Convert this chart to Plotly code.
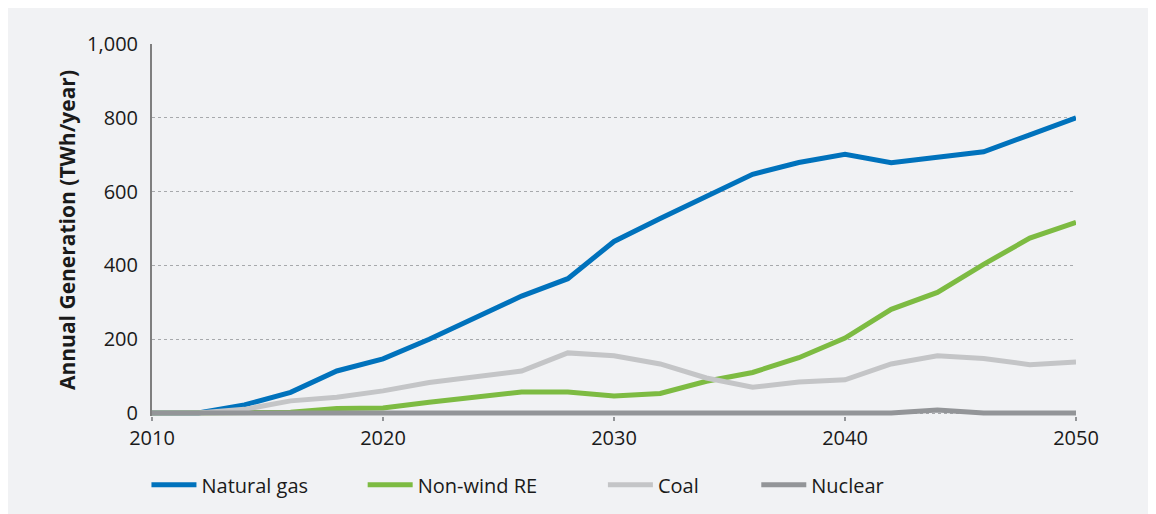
import plotly.graph_objects as go

years = list(range(2010, 2051, 2))
natural_gas = [0, 0, 22, 56, 114, 147, 200, 258, 317, 364, 465, 527, 588, 647, 679, 701, 678, 693, 708, 754, 800]
non_wind_re = [0, 0, 0, 2, 12, 14, 29, 43, 57, 57, 46, 53, 86, 110, 150, 203, 281, 327, 403, 474, 517]
coal = [0, 0, 10, 33, 43, 60, 83, 98, 114, 163, 155, 133, 95, 70, 84, 90, 133, 155, 148, 131, 138]
nuclear = [0, 0, 0, 0, 0, 0, 0, 0, 0, 0, 0, 0, 0, 0, 0, 0, 0, 8, 0, 0, 0]

series_names = ["Natural gas", "Non-wind RE", "Coal", "Nuclear"]
series_values = [natural_gas, non_wind_re, coal, nuclear]
series_colors = ["#0072bc", "#7dbb42", "#c4c5c7", "#939598"]
legend_ids = ["legend", "legend2", "legend3", "legend4"]
legend_x = [-0.006, 0.228, 0.488, 0.654]

y_ticks = [0, 200, 400, 600, 800, 1000]
y_tick_labels = ["0", "200", "400", "600", "800", "1,000"]
x_ticks = [2010, 2020, 2030, 2040, 2050]

FONT = "Open Sans"
TXT = "#1a1a1a"

fig = go.Figure()
for name, vals, col, lid in zip(series_names, series_values, series_colors, legend_ids):
    fig.add_trace(go.Scatter(
        x=years, y=vals, name=name, mode="lines",
        line=dict(color=col, width=5, shape="linear"),
        cliponaxis=False, legend=lid,
    ))

legend_common = dict(orientation="h", y=-0.185, yanchor="middle", xanchor="left",
                     bgcolor="rgba(0,0,0,0)", itemwidth=45,
                     font=dict(family=FONT, size=20, color=TXT))
layout_legends = {lid: dict(legend_common, x=lx) for lid, lx in zip(legend_ids, legend_x)}

fig.update_layout(
    width=1156, height=514,
    margin=dict(l=144, r=88, t=36, b=106),
    paper_bgcolor="#f1f2f4",
    plot_bgcolor="rgba(0,0,0,0)",
    font=dict(family=FONT, size=20, color=TXT),
    showlegend=True,
    **layout_legends,
)

fig.update_xaxes(
    range=[2010, 2050], tickvals=x_ticks, showgrid=False, zeroline=False,
    showline=False, ticks="outside", ticklen=4, tickwidth=2, tickcolor="#939598",
    tickfont=dict(family=FONT, size=20, color=TXT),
)
fig.update_yaxes(
    range=[-8, 1000], tickvals=y_ticks, ticktext=y_tick_labels,
    showgrid=True, gridcolor="#a7a9ac", gridwidth=1, griddash="dot",
    zeroline=False, showline=True, linecolor="#7f7f7f", linewidth=2,
    ticks="outside", ticklen=8, tickcolor="rgba(0,0,0,0)",
    tickfont=dict(family=FONT, size=20, color=TXT),
    title=dict(text="<b>Annual Generation (TWh/year)</b>", standoff=6,
               font=dict(family=FONT, size=21, color=TXT)),
)

fig.write_html("out.html")
